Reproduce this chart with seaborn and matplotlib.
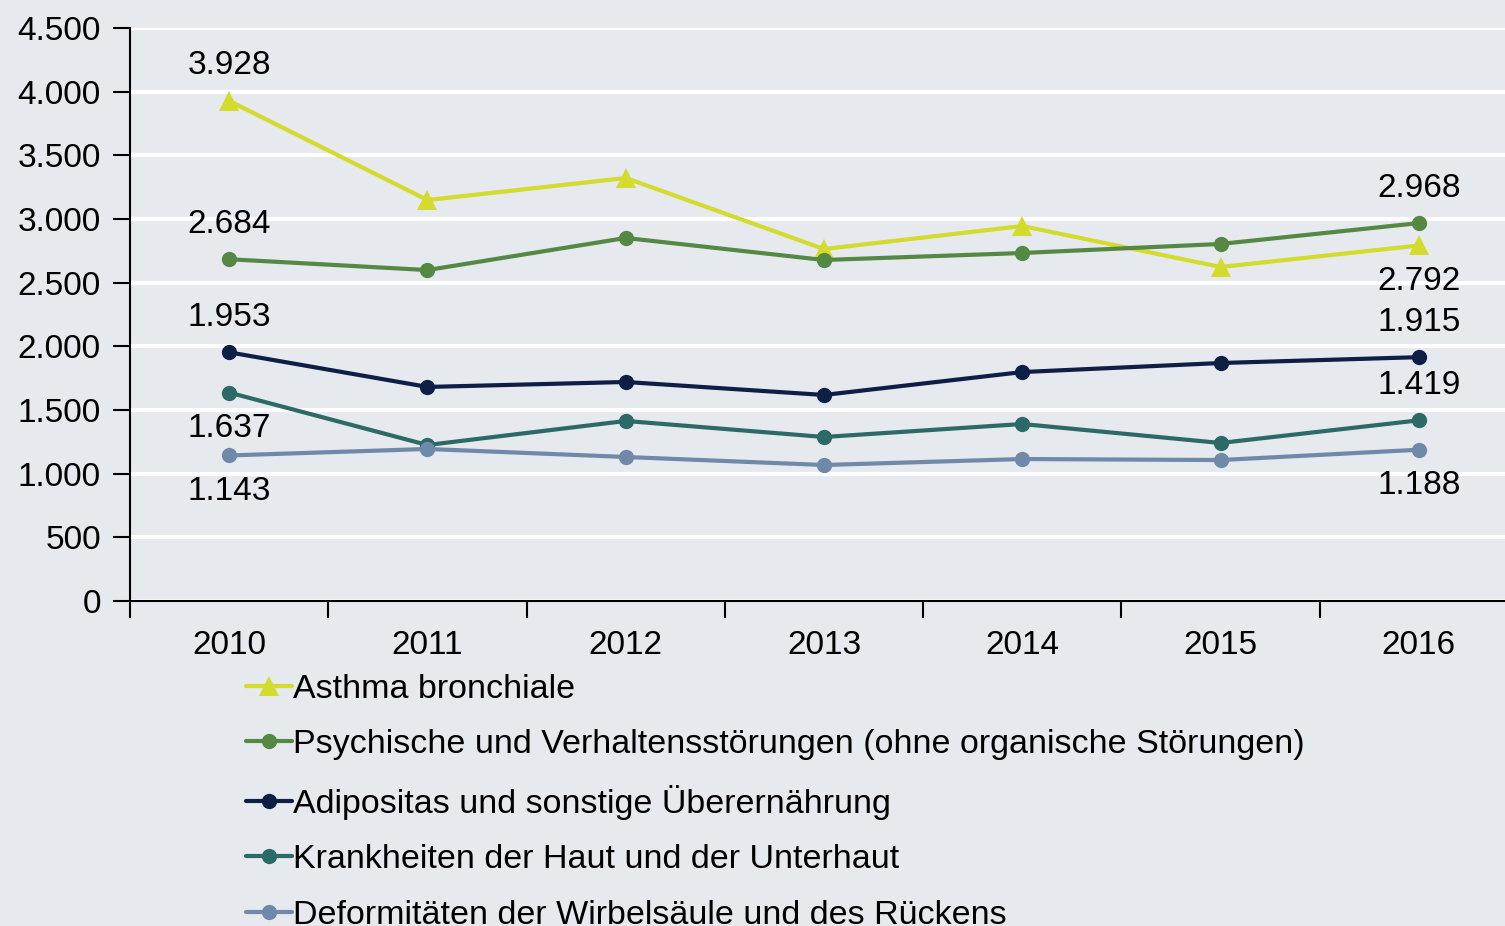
import pandas as pd
import seaborn as sns
import matplotlib.pyplot as plt
from matplotlib.ticker import FuncFormatter, FixedLocator

# Daten
jahre = ['2010', '2011', '2012', '2013', '2014', '2015', '2016']
kategorien = [
    'Asthma bronchiale',
    'Psychische und Verhaltensstörungen (ohne organische Störungen)',
    'Adipositas und sonstige Überernährung',
    'Krankheiten der Haut und der Unterhaut',
    'Deformitäten der Wirbelsäule und des Rückens',
]
asthma = [3928, 3149, 3322, 2764, 2945, 2623, 2792]
psychische = [2684, 2599, 2851, 2678, 2733, 2804, 2968]
adipositas = [1953, 1681, 1720, 1618, 1798, 1869, 1915]
haut = [1637, 1225, 1414, 1288, 1390, 1241, 1419]
deformitaeten = [1143, 1194, 1131, 1068, 1115, 1107, 1188]

farben = ['#D3DB2C', '#558843', '#0E1F45', '#2C6A67', '#7189A9']
marker = ['^', 'o', 'o', 'o', 'o']

# Beschriftungen: (Jahr-Index, Reihe) -> oben/unten
label_pos = {
    (0, 0): 'oben', (0, 1): 'oben', (0, 2): 'oben', (0, 3): 'unten', (0, 4): 'unten',
    (6, 0): 'unten', (6, 1): 'oben', (6, 2): 'oben', (6, 3): 'oben', (6, 4): 'unten',
}

werte = [asthma, psychische, adipositas, haut, deformitaeten]
rows = []
for k, w in zip(kategorien, werte):
    for i, v in enumerate(w):
        rows.append({'x': i, 'Wert': v, 'Kategorie': k})
df = pd.DataFrame(rows)

sns.set_theme(style='darkgrid')
plt.rcParams['font.family'] = ['Liberation Sans', 'DejaVu Sans']

bg = '#E6E9EE'
fig = plt.figure(figsize=(15.05, 9.26), dpi=100, facecolor=bg)
ax = fig.add_axes([130 / 1505, 325 / 926, 1388 / 1505, 573 / 926])
ax.set_facecolor(bg)

sns.lineplot(data=df, x='x', y='Wert', hue='Kategorie', style='Kategorie',
             hue_order=kategorien, style_order=kategorien,
             palette=farben, markers=dict(zip(kategorien, marker)), dashes=False,
             linewidth=3, markersize=11, markeredgewidth=0, ax=ax, legend=True)

# Dreieck etwas größer
for line in ax.lines:
    if line.get_marker() == '^':
        line.set_markersize(14)

ax.set_xlim(-0.5, 6.5)
ax.set_ylim(0, 4500)
ax.set_yticks(range(0, 4501, 500))
ax.yaxis.set_major_formatter(FuncFormatter(lambda v, p: f'{int(v):,}'.replace(',', '.')))
ax.set_xticks(range(7))
ax.set_xticklabels(jahre)
ax.xaxis.set_minor_locator(FixedLocator([i + 0.5 for i in range(-1, 7)]))
ax.grid(axis='y', color='white', linewidth=3)
ax.grid(axis='x', visible=False)
ax.set_xlabel('')
ax.set_ylabel('')

for s in ['top', 'right']:
    ax.spines[s].set_visible(False)
for s in ['left', 'bottom']:
    ax.spines[s].set_visible(True)
    ax.spines[s].set_color('black')
    ax.spines[s].set_linewidth(1.5)

ax.tick_params(axis='y', which='major', left=True, length=12, width=1.5, color='black',
               labelsize=24, pad=9, labelcolor='black')
ax.tick_params(axis='x', which='major', bottom=False, labelsize=24, pad=15, labelcolor='black')
ax.tick_params(axis='x', which='minor', bottom=True, length=12, width=1.5, color='black')

for (i, r), pos in label_pos.items():
    v = werte[r][i]
    txt = f'{v:,}'.replace(',', '.')
    dy = 35 if pos == 'oben' else -36
    ax.annotate(txt, (i, v), xytext=(0, dy), textcoords='offset pixels',
                ha='center', va='center', fontsize=24, color='black')

handles, labels = ax.get_legend_handles_labels()
ax.get_legend().remove()
fig.legend(handles, labels, loc='upper left', bbox_to_anchor=(232 / 1505, 1 - 660 / 926),
           frameon=False, fontsize=24.5, handlelength=1.35, handletextpad=0.05,
           labelspacing=0.72, borderaxespad=0, labelcolor='black')

fig.savefig('out.png', dpi=100, facecolor=bg)
